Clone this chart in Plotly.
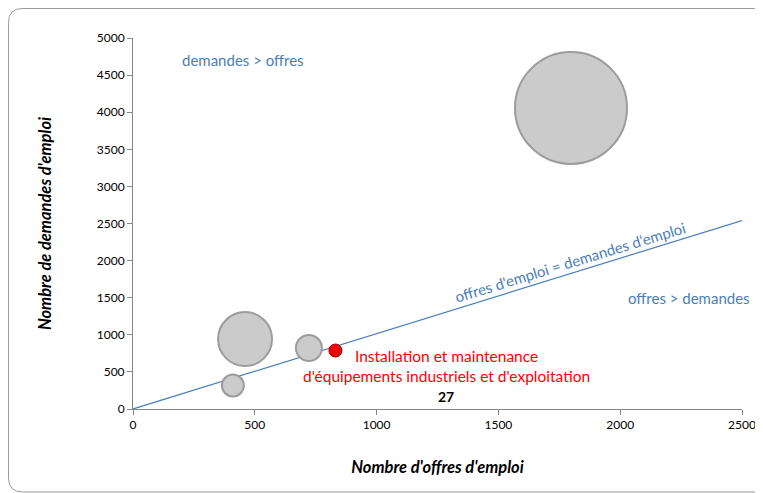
import plotly.graph_objects as go

# Data
offres = [410, 460, 722, 1798]
demandes = [316, 943, 822, 4057]
tailles = [77, 466, 108, 2004]

focus_offres = [831]
focus_demandes = [788]
focus_taille = [27]
focus_label = "Installation et maintenance<br>d'équipements industriels et d'exploitation"

diag_x = [0, 2500]
diag_y = [0, 2540]

x_ticks = [0, 500, 1000, 1500, 2000, 2500]
y_ticks = [0, 500, 1000, 1500, 2000, 2500, 3000, 3500, 4000, 4500, 5000]

FONT = "Lato, 'Open Sans', sans-serif"
BLUE = "#4a7ebb"
max_d = 112
sizeref = 2.0 * max(tailles) / (max_d ** 2)

fig = go.Figure()

fig.add_trace(go.Scatter(
    x=diag_x, y=diag_y, mode="lines",
    line=dict(color=BLUE, width=1.2), hoverinfo="skip", showlegend=False))

fig.add_trace(go.Scatter(
    x=offres, y=demandes, mode="markers",
    marker=dict(size=tailles, sizemode="area", sizeref=sizeref,
                color="#cbcbcb", opacity=1,
                line=dict(color="#9c9c9c", width=2)),
    showlegend=False))

fig.add_trace(go.Scatter(
    x=focus_offres, y=focus_demandes, mode="markers",
    marker=dict(size=focus_taille, sizemode="area", sizeref=sizeref,
                color="#f00000", opacity=1,
                line=dict(color="#a00000", width=1)),
    showlegend=False))

fig.add_annotation(x=452, y=4703, text="demandes > offres", showarrow=False,
                   font=dict(family=FONT, size=15, color=BLUE))
fig.add_annotation(x=2282, y=1496, text="offres > demandes", showarrow=False,
                   font=dict(family=FONT, size=15, color=BLUE))
fig.add_annotation(x=1794, y=1981, text="offres d'emploi = demandes d'emploi",
                   showarrow=False, textangle=-17,
                   font=dict(family=FONT, size=15, color=BLUE))
fig.add_annotation(x=1285, y=580, text=focus_label, showarrow=False,
                   font=dict(family=FONT, size=15.5, color="#ff0000"))
fig.add_annotation(x=1285, y=175, text="<b>%d</b>" % focus_taille[0], showarrow=False,
                   font=dict(family=FONT, size=14, color="#000000"))

# figure is placed with an 8px page offset; work in figure coordinates
FW, FH = 755, 485
L, R, T, B = 125, 734, 30, 401
W, H = R - L, B - T
def px(xp):
    return (xp - L) / W
def py(yp):
    return (B - yp) / H
x0, x1, y0, y1 = 0.5, 766, 0.5, 484
r = 14
path = (f"M {px(x0 + r)},{py(y0)} L {px(x1 - r)},{py(y0)} "
        f"Q {px(x1)},{py(y0)} {px(x1)},{py(y0 + r)} "
        f"L {px(x1)},{py(y1 - r)} Q {px(x1)},{py(y1)} {px(x1 - r)},{py(y1)} "
        f"L {px(x0 + r)},{py(y1)} Q {px(x0)},{py(y1)} {px(x0)},{py(y1 - r)} "
        f"L {px(x0)},{py(y0 + r)} Q {px(x0)},{py(y0)} {px(x0 + r)},{py(y0)} Z")
fig.add_shape(type="path", xref="paper", yref="paper", path=path,
              line=dict(color="#9a9a9a", width=1), layer="below")

axis_common = dict(showgrid=False, zeroline=False, showline=True,
                   linecolor="#868686", linewidth=1, ticks="outside",
                   ticklen=5, tickcolor="#868686", automargin=False,
                   tickfont=dict(family=FONT, size=12, color="#000000"))

fig.update_xaxes(range=[0, 2500], tickvals=x_ticks, **axis_common,
                 title=dict(text="<b><i>Nombre d'offres d'emploi</i></b>",
                            font=dict(family=FONT, size=16.5, color="#000000"),
                            standoff=30))
fig.update_yaxes(range=[0, 5000], tickvals=y_ticks, **axis_common,
                 title=dict(text="<b><i>Nombre de demandes d'emploi</i></b>",
                            font=dict(family=FONT, size=16.5, color="#000000"),
                            standoff=40))

fig.update_layout(width=FW, height=FH,
                  margin=dict(l=L, r=FW - R, t=T, b=FH - B, autoexpand=False),
                  plot_bgcolor="white", paper_bgcolor="white",
                  showlegend=False)

fig.write_html("out.html")
